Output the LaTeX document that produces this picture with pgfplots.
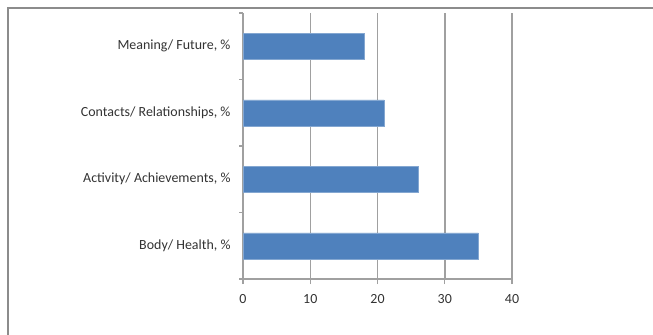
\documentclass[border=0pt]{standalone}
\usepackage{pgfplots}
\pgfplotsset{compat=1.18}
\usepackage{fontspec}
\setmainfont{Carlito}
\definecolor{barblue}{HTML}{4F81BD}
\definecolor{gridgray}{HTML}{A0A0A0}
\definecolor{framegray}{HTML}{8C8C8C}
\definecolor{txt}{HTML}{333333}
\begin{document}
\begin{tikzpicture}
\useasboundingbox (0,0) rectangle (653bp,-335bp);
\fill[white] (0,0) rectangle (653bp,-335bp);
\draw[framegray, line width=1.5bp] (7.75bp,-335bp) -- (7.75bp,-7.75bp) -- (653bp,-7.75bp);
\begin{axis}[
  at={(243bp,-279bp)}, anchor=south west,
  scale only axis, width=269bp, height=266bp,
  xbar, bar width=26bp,
  xmin=0, xmax=40, ymin=0.5, ymax=4.5,
  xtick={0,10,20,30,40},
  ytick={1,2,3,4},
  yticklabels={{Body/ Health, \%},{Activity/ Achievements, \%},{Contacts/ Relationships, \%},{Meaning/ Future, \%}},
  minor ytick={0.5,1.5,2.5,3.5,4.5},
  axis x line=bottom, axis y line=left,
  axis line style={-, gridgray, line width=1.5bp},
  xmajorgrids, major grid style={gridgray, line width=1.5bp},
  tick align=outside,
  major tick length=5bp, minor tick length=4bp,
  every tick/.style={gridgray, line width=1.2bp},
  y tick style={draw=none},
  minor y tick style={draw=gridgray, line width=1.2bp},
  ticklabel style={font=\fontsize{14}{16}\selectfont, text=txt},
  /pgf/number format/assume math mode=true,
  xticklabel style={yshift=-7bp},
  yticklabel style={xshift=-4bp},
  clip=false,
]
\addplot[fill=barblue, draw=barblue!70!white] coordinates {(35,1) (26,2) (21,3) (18,4)};
\end{axis}
\end{tikzpicture}
\end{document}
